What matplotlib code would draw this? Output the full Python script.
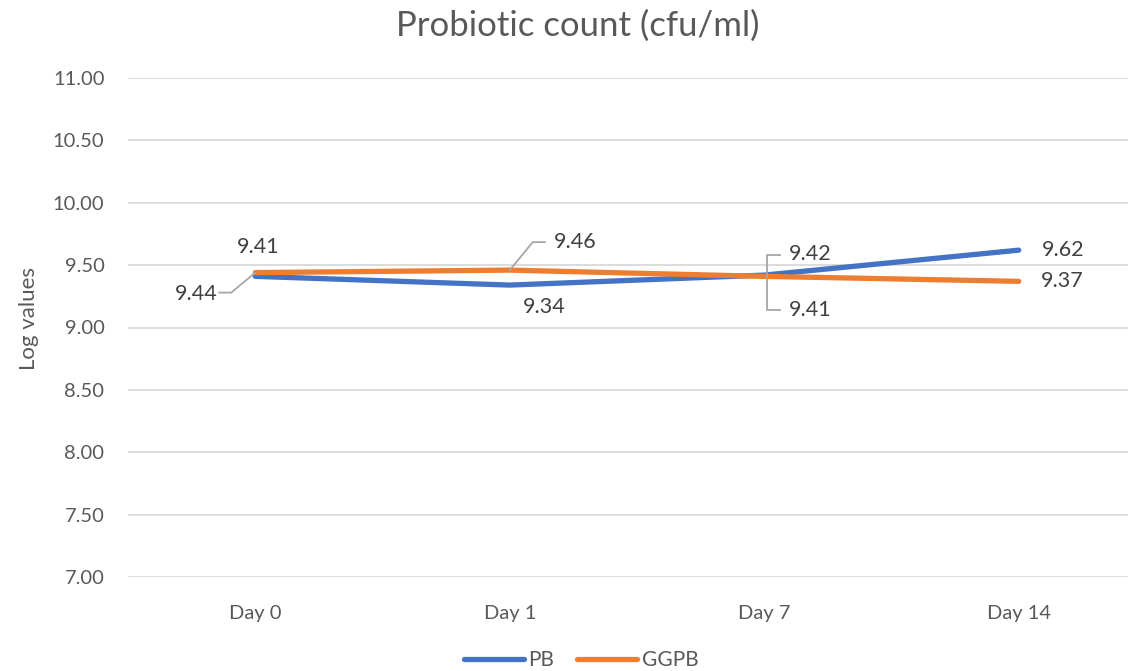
import matplotlib
matplotlib.use('Agg')
import matplotlib.pyplot as plt
from matplotlib.lines import Line2D
from matplotlib.transforms import IdentityTransform

days = ['Day 0', 'Day 1', 'Day 7', 'Day 14']
pb = [9.41, 9.34, 9.42, 9.62]
ggpb = [9.44, 9.46, 9.41, 9.37]
y_ticks = [7.0, 7.5, 8.0, 8.5, 9.0, 9.5, 10.0, 10.5, 11.0]

# label offsets in pixels from the point (dx, dy)
pb_offsets = [(3, 29), (35, -22), (46, 21), (44, 0)]
gg_offsets = [(-59, -21), (65, 28), (46, -34), (44, 0)]

BLUE = '#4472C4'
ORANGE = '#ED7D31'
TXT = '#595959'
LBL = '#404040'
GRID = '#D9D9D9'
LEAD = '#A6A6A6'

plt.rcParams['font.family'] = ['Lato', 'DejaVu Sans']


def main():
    fig = plt.figure(figsize=(11.28, 6.71), dpi=100)
    ax = fig.add_axes([128 / 1128, 94 / 671, 1018 / 1128, 499 / 671])
    x = list(range(len(days)))

    ax.plot(x, pb, color=BLUE, lw=3.8, solid_capstyle='round', label='PB', zorder=3)
    ax.plot(x, ggpb, color=ORANGE, lw=3.8, solid_capstyle='round', label='GGPB', zorder=3)

    ax.set_xlim(-0.5, 3.5)
    ax.set_ylim(7, 11)
    ax.set_yticks(y_ticks)
    ax.set_yticklabels(['%.2f' % v for v in y_ticks])
    ax.set_xticks(x)
    ax.set_xticklabels(days)
    ax.grid(axis='y', color=GRID, lw=1.3)
    ax.set_axisbelow(True)
    for s in ax.spines.values():
        s.set_visible(False)
    ax.tick_params(length=0, colors=TXT, labelsize=14.5)
    ax.tick_params(axis='y', pad=17)
    ax.tick_params(axis='x', pad=20)

    for i in x:
        ax.annotate('%.2f' % pb[i], (i, pb[i]), xytext=pb_offsets[i], textcoords='offset pixels',
                    ha='center', va='center', fontsize=15.5, color=LBL)
        ax.annotate('%.2f' % ggpb[i], (i, ggpb[i]), xytext=gg_offsets[i], textcoords='offset pixels',
                    ha='center', va='center', fontsize=15.5, color=LBL)

    # leader lines
    def leader(xd, yd, pts):
        px, py = ax.transData.transform((xd, yd))
        xs = [px + p[0] for p in pts]
        ys = [py + p[1] for p in pts]
        fig.add_artist(Line2D(xs, ys, transform=IdentityTransform(), color=LEAD, lw=1.3))

    leader(0, ggpb[0], [(0, 0), (-24, -20), (-36, -20)])
    leader(1, ggpb[1], [(0, 0), (23, 28), (35, 28)])
    mid = (pb[2] + ggpb[2]) / 2
    leader(2, mid, [(16, 21), (3, 21), (3, -34), (16, -34)])

    fig.text(0.512, 0.962, 'Probiotic count (cfu/ml)', ha='center', va='center', fontsize=25, color=TXT)
    fig.text(0.026, 0.525, 'Log values', rotation=90, ha='center', va='center', fontsize=16, color=TXT)

    fig.legend(loc='center', bbox_to_anchor=(0.515, 0.016), ncol=2, frameon=False, fontsize=15,
               labelcolor=TXT, handlelength=2.9, handletextpad=0.2, columnspacing=1.1)

    fig.savefig('out.png', dpi=100)


if __name__ == '__main__':
    main()
